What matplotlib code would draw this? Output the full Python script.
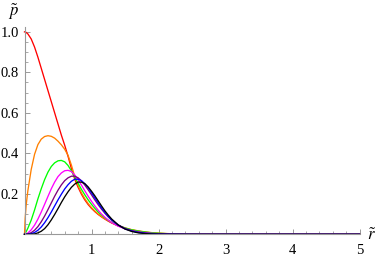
import numpy as np
import matplotlib
matplotlib.use("Agg")
import matplotlib.pyplot as plt
from matplotlib.ticker import MultipleLocator, FixedLocator

plt.rcParams['mathtext.fontset'] = 'stix'
plt.rcParams['font.family'] = 'serif'
plt.rcParams['font.serif'] = ['Liberation Serif', 'DejaVu Serif']

# sample radii (same for every curve)
r = [0, 0.01, 0.025, 0.05, 0.1, 0.15, 0.2, 0.25, 0.3, 0.35, 0.4, 0.45, 0.5, 0.55,
     0.6, 0.65, 0.7, 0.75, 0.8, 0.85, 0.9, 0.95, 1.0, 1.05, 1.1, 1.15, 1.2, 1.25,
     1.3, 1.4, 1.5, 1.6, 1.7, 1.8, 1.9, 2.0, 2.2, 2.4, 2.7, 3.0, 4.0, 5.0]

p_red = [1.0, 0.9995, 0.997, 0.99, 0.965, 0.925, 0.875, 0.82, 0.765, 0.71, 0.655, 0.6,
         0.545, 0.49, 0.44, 0.385, 0.325, 0.272, 0.232, 0.198, 0.17, 0.147, 0.128, 0.112,
         0.098, 0.086, 0.075, 0.065, 0.056, 0.041, 0.03, 0.021, 0.015, 0.01, 0.0068, 0.0045,
         0.002, 0.0008, 0.0002, 0.00005, 0, 0]
p_orange = [0, 0.08, 0.145, 0.215, 0.32, 0.395, 0.443, 0.47, 0.483, 0.487, 0.484, 0.475,
            0.46, 0.442, 0.42, 0.39, 0.342, 0.285, 0.24, 0.205, 0.176, 0.152, 0.132, 0.115,
            0.1, 0.088, 0.077, 0.067, 0.058, 0.043, 0.032, 0.023, 0.017, 0.012, 0.0083, 0.0057,
            0.0026, 0.0011, 0.0003, 0.0001, 0, 0]
p_green = [0, 0.005, 0.013, 0.03, 0.07, 0.12, 0.175, 0.225, 0.27, 0.307, 0.335, 0.353,
           0.363, 0.365, 0.358, 0.34, 0.313, 0.283, 0.252, 0.222, 0.195, 0.17, 0.148, 0.128,
           0.11, 0.095, 0.081, 0.069, 0.059, 0.043, 0.031, 0.022, 0.016, 0.011, 0.0075, 0.005,
           0.0022, 0.0009, 0.0002, 0.0001, 0, 0]
p_magenta = [0, 0.0005, 0.002, 0.006, 0.022, 0.045, 0.075, 0.11, 0.148, 0.187, 0.225, 0.258,
             0.285, 0.303, 0.314, 0.316, 0.31, 0.293, 0.27, 0.243, 0.215, 0.188, 0.163, 0.14,
             0.119, 0.1, 0.084, 0.07, 0.058, 0.04, 0.027, 0.018, 0.012, 0.0075, 0.0047, 0.003,
             0.0011, 0.0004, 0.0001, 0, 0, 0]
p_purple = [0, 0, 0.0003, 0.0015, 0.008, 0.02, 0.038, 0.062, 0.09, 0.122, 0.155, 0.188,
            0.218, 0.244, 0.265, 0.279, 0.287, 0.287, 0.279, 0.264, 0.243, 0.22, 0.195, 0.17,
            0.146, 0.124, 0.104, 0.086, 0.07, 0.046, 0.029, 0.018, 0.011, 0.0065, 0.0038, 0.0022,
            0.0007, 0.0002, 0, 0, 0, 0]
p_blue = [0, 0, 0, 0.0005, 0.003, 0.009, 0.02, 0.036, 0.057, 0.082, 0.11, 0.14,
          0.17, 0.198, 0.224, 0.245, 0.262, 0.272, 0.272, 0.265, 0.25, 0.23, 0.205, 0.18,
          0.155, 0.13, 0.108, 0.088, 0.071, 0.045, 0.027, 0.016, 0.009, 0.005, 0.0027, 0.0015,
          0.0004, 0.0001, 0, 0, 0, 0]
p_black = [0, 0, 0, 0, 0.0005, 0.002, 0.007, 0.015, 0.028, 0.047, 0.071, 0.098,
           0.127, 0.157, 0.185, 0.21, 0.232, 0.248, 0.258, 0.258, 0.25, 0.234, 0.213, 0.19,
           0.165, 0.14, 0.116, 0.095, 0.076, 0.046, 0.026, 0.014, 0.007, 0.0035, 0.0017, 0.0008,
           0.0002, 0, 0, 0, 0, 0]

curves = [(p_red, (1, 0, 0)), (p_orange, (1, 0.5, 0)), (p_green, (0, 1, 0)),
          (p_magenta, (1, 0, 1)), (p_purple, (0.5, 0, 0.5)), (p_blue, (0, 0, 1)),
          (p_black, (0, 0, 0))]

fig = plt.figure(figsize=(3.82, 2.57), dpi=100)
ax = fig.add_axes([24.5 / 382, 22.7 / 257, 335 / 382, 207.3 / 257])

for vals, col in curves:
    ax.plot(r, vals, color=col, lw=0.95, clip_on=False)

ax.set_xlim(0, 5.0)
ax.set_ylim(0, 1.024)

axcol = '#999999'
for s in ['top', 'right']:
    ax.spines[s].set_visible(False)
for s in ['left', 'bottom']:
    ax.spines[s].set_color(axcol)
    ax.spines[s].set_linewidth(0.8)

ax.xaxis.set_major_locator(FixedLocator([1, 2, 3, 4, 5]))
ax.xaxis.set_minor_locator(MultipleLocator(0.2))
ax.yaxis.set_major_locator(FixedLocator([0.2, 0.4, 0.6, 0.8, 1.0]))
ax.yaxis.set_minor_locator(MultipleLocator(0.05))
ax.set_xticklabels(['1', '2', '3', '4', '5'])
ax.set_yticklabels(['0.2', '0.4', '0.6', '0.8', '1.0'])
ax.tick_params(which='both', direction='in', color=axcol, labelsize=10.5, labelcolor='black')
ax.tick_params(which='major', length=3.5, width=0.7)
ax.tick_params(which='minor', length=2, width=0.6)
ax.tick_params(axis='x', pad=7)
ax.tick_params(axis='y', pad=4)

fig.text(367 / 382, 1 - 236 / 257, r'$\tilde{r}$', fontsize=12, ha='left', va='center')
fig.text(14 / 382, 1 - 12 / 257, r'$\tilde{p}$', fontsize=12, ha='center', va='center')

fig.savefig('out.png', dpi=100)
